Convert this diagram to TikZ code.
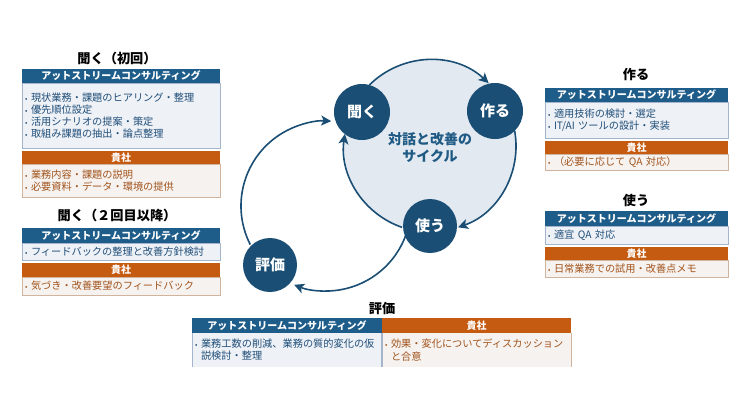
\documentclass[tikz,border=0pt]{standalone}
\usepackage{fontspec}
\setmainfont{Noto Sans CJK JP}
\usetikzlibrary{arrows.meta,calc}
\definecolor{hblue}{HTML}{1E5C8A}
\definecolor{cblue}{HTML}{1A4E74}
\definecolor{horange}{HTML}{C55A11}
\definecolor{bfill}{HTML}{EEF1F6}
\definecolor{bborder}{HTML}{A3B4CC}
\definecolor{ofill}{HTML}{F5F2EF}
\definecolor{oborder}{HTML}{D0B49E}
\definecolor{btext}{HTML}{1F4E79}
\definecolor{otext}{HTML}{A2531C}
\definecolor{ringfill}{HTML}{E2E9F0}
\definecolor{ctext}{HTML}{1F5A85}
\newcommand{\bul}{\makebox[6pt][l]{\fontsize{7}{7}\selectfont •}}
\begin{document}
\begin{tikzpicture}[x=1pt,y=1pt,
  hdrB/.style={rectangle, fill=hblue, text=white, font=\fontsize{10}{10}\selectfont\bfseries, inner sep=0pt, outer sep=0pt, minimum height=14pt},
  hdrO/.style={rectangle, fill=horange, text=white, font=\fontsize{10}{10}\selectfont\bfseries, inner sep=0pt, outer sep=0pt, minimum height=13pt},
  bodyB/.style={rectangle, fill=bfill, draw=bborder, line width=0.8pt, text=btext, font=\fontsize{10.2}{12.2}\selectfont, align=left, inner xsep=3pt, inner ysep=0pt, outer sep=0pt},
  bodyO/.style={rectangle, fill=ofill, draw=oborder, line width=0.8pt, text=otext, font=\fontsize{10.2}{12.2}\selectfont, align=left, inner xsep=3pt, inner ysep=0pt, outer sep=0pt},
  ttl/.style={font=\fontsize{13.2}{13.2}\selectfont\bfseries, text=black, inner sep=0pt},
  cyc/.style={circle, fill=cblue, text=white, font=\fontsize{15}{15}\selectfont\bfseries, minimum size=56pt, inner sep=0pt, outer sep=0pt},
  arr/.style={draw=cblue, line width=1.6pt, -{Stealth[length=10pt,width=10pt,inset=2.5pt]}}
]
\useasboundingbox[fill=white] (0,0) rectangle (750,-413);

% ---------- left box 1 ----------
\node[ttl] (t1) at (117,-58) {聞く（初回）};
\node[hdrB, minimum width=198pt, anchor=north west] (h1b) at (22,-69) {アットストリームコンサルティング};
\node[bodyB, text width=192pt, minimum height=65pt, anchor=north] (b1b) at (h1b.south) {\bul 現状業務・課題のヒアリング・整理\\\bul 優先順位設定\\\bul 活用シナリオの提案・策定\\\bul 取組み課題の抽出・論点整理};
\node[hdrO, minimum width=198pt, anchor=north west] (h1o) at (22,-151) {貴社};
\node[bodyO, text width=192pt, minimum height=33pt, anchor=north] (b1o) at (h1o.south) {\bul 業務内容・課題の説明\\\bul 必要資料・データ・環境の提供};

% ---------- left box 2 ----------
\node[ttl] (t2) at (117,-215) {聞く（２回目以降）};
\node[hdrB, minimum width=198pt, minimum height=15pt, anchor=north west] (h2b) at (22,-228) {アットストリームコンサルティング};
\node[bodyB, text width=192pt, minimum height=17pt, anchor=north] (b2b) at (h2b.south) {\bul フィードバックの整理と改善方針検討};
\node[hdrO, minimum width=198pt, minimum height=14pt, anchor=north west] (h2o) at (22,-263) {貴社};
\node[bodyO, text width=192pt, minimum height=18pt, anchor=north] (b2o) at (h2o.south) {\bul 気づき・改善要望のフィードバック};

% ---------- right box 作る ----------
\node[ttl] (t3) at (636,-75) {作る};
\node[hdrB, minimum width=183pt, anchor=north west] (h3b) at (545,-88) {アットストリームコンサルティング};
\node[bodyB, text width=177pt, minimum height=36pt, anchor=north] (b3b) at (h3b.south) {\bul 適用技術の検討・選定\\\bul IT/AI ツールの設計・実装};
\node[hdrO, minimum width=183pt, anchor=north west] (h3o) at (545,-141) {貴社};
\node[bodyO, text width=177pt, minimum height=16pt, anchor=north] (b3o) at (h3o.south) {\bul （必要に応じて QA 対応）};

% ---------- right box 使う ----------
\node[ttl] (t4) at (636,-200) {使う};
\node[hdrB, minimum width=183pt, minimum height=15pt, anchor=north west] (h4b) at (545,-211) {アットストリームコンサルティング};
\node[bodyB, text width=177pt, minimum height=18pt, anchor=north] (b4b) at (h4b.south) {\bul 適宜 QA 対応};
\node[hdrO, minimum width=183pt, anchor=north west] (h4o) at (545,-247) {貴社};
\node[bodyO, text width=177pt, minimum height=17pt, anchor=north] (b4o) at (h4o.south) {\bul 日常業務での試用・改善点メモ};

% ---------- bottom box 評価 ----------
\node[ttl] (t5) at (382,-308) {評価};
\node[hdrB, minimum width=190pt, minimum height=15pt, anchor=north west] (h5b) at (192,-318) {アットストリームコンサルティング};
\node[hdrO, minimum width=189pt, minimum height=15pt, anchor=north west] (h5o) at (382,-318) {貴社};
\node[bodyB, draw=none, text width=184pt, minimum height=34pt, anchor=north] (b5b) at (h5b.south) {\bul 業務工数の削減、業務の質的変化の仮\\\hspace*{6pt}説検討・整理};
\node[bodyO, draw=none, text width=183pt, minimum height=34pt, anchor=north] (b5o) at (h5o.south) {\bul 効果・変化についてディスカッション\\\hspace*{6pt}と合意};
\draw[bborder, line width=0.8pt] (b5b.north west) -- (b5b.south west);
\draw[bborder, line width=1.2pt] (b5b.north east) -- (b5b.south east);
\draw[oborder, line width=0.8pt] (b5o.north east) -- (b5o.south east);

% ---------- cycle ----------
\node[circle, fill=ringfill, minimum size=172pt, inner sep=0pt, outer sep=0pt] (ring) at (430,-146) {};
\node[circle, minimum size=170pt, inner sep=0pt, outer sep=0pt] (loop) at (326,-206) {};
\node[font=\fontsize{14}{17}\selectfont\bfseries, text=ctext, align=center] (ctr) at (430,-148) {対話と改善の\\サイクル};

\draw[arr] (ring.135) arc[start angle=135, end angle=47, radius=86];
\draw[arr] (ring.10) arc[start angle=10, end angle=-71, radius=86];
\draw[arr] (ring.-109) arc[start angle=-109, end angle=-188, radius=86];
\draw[arr] (loop.-20) arc[start angle=-20, end angle=-112, radius=85];
\draw[arr] (loop.-153) arc[start angle=-153, end angle=-273.5, radius=85];

\node[cyc] (kiku) at (362,-112) {聞く};
\node[cyc] (tsukuru) at (495,-111) {作る};
\node[cyc, minimum size=54pt] (tsukau) at (430,-226) {使う};
\node[cyc, minimum size=54pt] (hyoka) at (270,-265) {評価};
\end{tikzpicture}
\end{document}
